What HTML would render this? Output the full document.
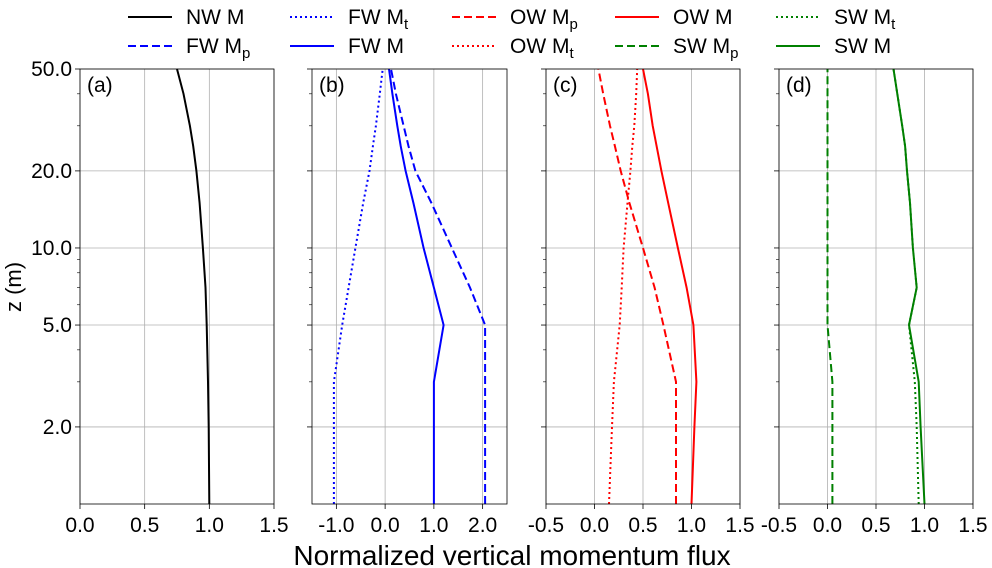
<!DOCTYPE html>
<html><head><meta charset="utf-8"><style>
body{margin:0;background:#fff;}
svg{display:block;font-family:"Liberation Sans","DejaVu Sans",sans-serif;}
</style></head><body>
<svg id="chart" width="992" height="568" xmlns="http://www.w3.org/2000/svg"></svg>
<script>
const zLevels=[1,2,3,5,7,10,15,20,25,30,40,50];
const nwM=[1.0,0.995,0.99,0.98,0.97,0.95,0.925,0.90,0.875,0.85,0.80,0.75];
const fwM=[1.0,1.0,1.0,1.2,1.0,0.79,0.58,0.42,0.32,0.25,0.15,0.08];
const fwMp=[2.05,2.05,2.05,2.05,1.74,1.37,0.95,0.62,0.48,0.38,0.22,0.12];
const fwMt=[-1.05,-1.05,-1.05,-0.88,-0.75,-0.61,-0.45,-0.32,-0.25,-0.19,-0.11,-0.05];
const owM=[1.0,1.03,1.05,1.02,0.95,0.86,0.76,0.69,0.64,0.60,0.55,0.50];
const owMp=[0.84,0.84,0.84,0.71,0.62,0.50,0.36,0.27,0.21,0.16,0.09,0.04];
const owMt=[0.15,0.18,0.20,0.26,0.28,0.30,0.34,0.37,0.39,0.41,0.43,0.44];
const swM=[1.0,0.96,0.94,0.84,0.92,0.88,0.85,0.82,0.80,0.77,0.72,0.68];
const swMt=[0.94,0.92,0.90,0.84,0.92,0.88,0.85,0.82,0.80,0.77,0.72,0.68];
const swMp=[0.05,0.05,0.05,0.0,0.0,0.0,0.0,0.0,0.0,0.0,0.0,0.0];
const yTicks=[2,5,10,20,50];
const yTickLabels=["2.0","5.0","10.0","20.0","50.0"];
const panelLabels=["(a)","(b)","(c)","(d)"];

const NS="http://www.w3.org/2000/svg";
const svg=document.getElementById('chart');
function el(t,a,p){const e=document.createElementNS(NS,t);for(const k in a)e.setAttribute(k,a[k]);(p||svg).appendChild(e);return e;}
const Y0=69,Y1=504;
function yS(z){return Y1-(Math.log10(z)/Math.log10(50))*(Y1-Y0);}
const panels=[
 {x0:80,x1:274,min:0,max:1.5,ticks:[0,0.5,1,1.5],tl:["0.0","0.5","1.0","1.5"],series:[{d:nwM,c:"#000",s:""}]},
 {x0:312,x1:507,min:-1.5,max:2.5,ticks:[-1,0,1,2],tl:["-1.0","0.0","1.0","2.0"],series:[{d:fwMt,c:"#0000ff",s:"2,3"},{d:fwMp,c:"#0000ff",s:"8,4"},{d:fwM,c:"#0000ff",s:""}]},
 {x0:546,x1:740,min:-0.5,max:1.5,ticks:[-0.5,0,0.5,1,1.5],tl:["-0.5","0.0","0.5","1.0","1.5"],series:[{d:owMt,c:"#ff0000",s:"2,3"},{d:owMp,c:"#ff0000",s:"8,4"},{d:owM,c:"#ff0000",s:""}]},
 {x0:779,x1:973,min:-0.5,max:1.5,ticks:[-0.5,0,0.5,1,1.5],tl:["-0.5","0.0","0.5","1.0","1.5"],series:[{d:swMt,c:"#008000",s:"2,3"},{d:swMp,c:"#008000",s:"8,4"},{d:swM,c:"#008000",s:""}]}
];
panels.forEach((p,i)=>{
 const g=el('g',{});
 
 
 const xS=v=>p.x0+(v-p.min)/(p.max-p.min)*(p.x1-p.x0);
 p.ticks.forEach((t,j)=>{
  const x=xS(t);
  el('line',{x1:x,x2:x,y1:Y0,y2:Y1,stroke:"#b0b0b0","stroke-width":0.8},g);
  el('line',{x1:x,x2:x,y1:Y1,y2:Y1+5,stroke:"#000","stroke-width":0.8},g);
  const tx=el('text',{x:x,y:Y1+28,"font-size":21,"text-anchor":"middle"},g);
  tx.textContent=p.tl[j];
  
  
 });
 yTicks.forEach((z,j)=>{
  const y=yS(z);
  el('line',{x1:p.x0,x2:p.x1,y1:y,y2:y,stroke:"#b0b0b0","stroke-width":0.8},g);
  el('line',{x1:p.x0-5,x2:p.x0,y1:y,y2:y,stroke:"#000","stroke-width":0.8},g);
  if(i===0){const tx=el('text',{x:p.x0-8,y:y+7,"font-size":21,"text-anchor":"end"},g);tx.textContent=yTickLabels[j];
   
   }
 });
 [3,4,6,7,8,9,30,40].forEach(z=>{const y=yS(z);el('line',{x1:p.x0-3,x2:p.x0,y1:y,y2:y,stroke:"#000","stroke-width":0.6},g);});
 p.series.forEach(s=>{
  const pts=s.d.map((v,k)=>xS(v).toFixed(1)+","+yS(zLevels[k]).toFixed(1)).join(" ");
  const a={points:pts,fill:"none",stroke:s.c,"stroke-width":2};
  if(s.s)a["stroke-dasharray"]=s.s;
  const pl=el('polyline',a,g);
  
  
 });
 el('rect',{x:p.x0,y:Y0,width:p.x1-p.x0,height:Y1-Y0,fill:"none",stroke:"#000","stroke-width":0.8},g);
 const lb=el('text',{x:p.x0+7,y:Y0+23,"font-size":21},g);lb.textContent=panelLabels[i];
 
 
});
const yl=el('text',{x:21,y:287,"font-size":22,"text-anchor":"middle",transform:"rotate(-90 21 287)"});yl.textContent="z (m)";


const xl=el('text',{x:512,y:565,"font-size":28,"text-anchor":"middle"});xl.textContent="Normalized vertical momentum flux";


const leg=[
 [128,17,"#000","","NW M",""],[290,17,"#0000ff","2,3","FW M","t"],[452,17,"#ff0000","8,4","OW M","p"],[615,17,"#ff0000","","OW M",""],[776,17,"#008000","2,3","SW M","t"],
 [128,46,"#0000ff","8,4","FW M","p"],[290,46,"#0000ff","","FW M",""],[452,46,"#ff0000","2,3","OW M","t"],[615,46,"#008000","8,4","SW M","p"],[776,46,"#008000","","SW M",""]
];
leg.forEach(e=>{
 const g=el('g',{});
 
 
 const a={x1:e[0],x2:e[0]+44,y1:e[1],y2:e[1],stroke:e[2],"stroke-width":2};
 if(e[3])a["stroke-dasharray"]=e[3];
 el('line',a,g);
 const t=el('text',{x:e[0]+58,y:e[1]+7,"font-size":21},g);
 t.textContent=e[4];
 if(e[5]){const s=el('tspan',{"font-size":15,dy:5},t);s.textContent=e[5];}
});
</script>
</body></html>
